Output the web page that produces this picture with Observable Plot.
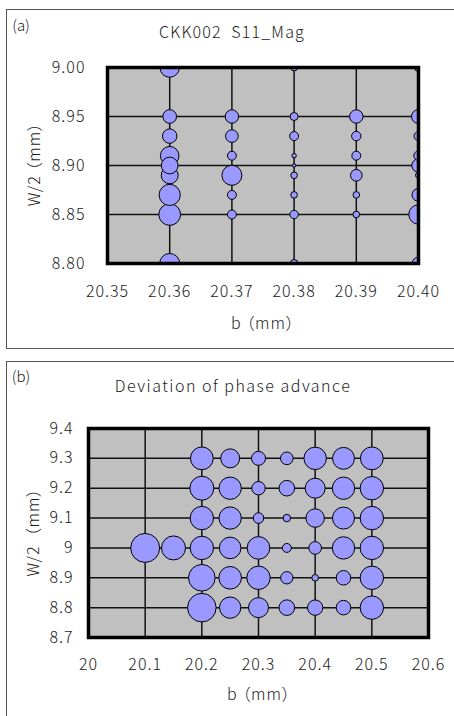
<!DOCTYPE html>
<html><head><meta charset="utf-8">
<script src="https://cdn.jsdelivr.net/npm/d3@7"></script>
<script src="https://cdn.jsdelivr.net/npm/@observablehq/plot@0.6"></script>
<style>
html,body{margin:0;padding:0;background:#fff}
body{width:454px;height:716px;overflow:hidden;position:relative;font-family:"Noto Sans CJK JP","Noto Sans",sans-serif;color:#1a1a1a;font-weight:300;font-feature-settings:"palt"}
.panel{position:absolute;border:1px solid #555;box-sizing:border-box}
.t{position:absolute;white-space:nowrap;font-size:16px;line-height:1;transform:translate(-50%,-50%);letter-spacing:1px}
.rot{transform:translate(-50%,-50%) rotate(-90deg)}
svg{position:absolute;left:0}
svg text{font-feature-settings:"palt"}
</style></head>
<body>
<div class="panel" style="left:6px;top:9px;width:470px;height:340px"></div>
<div class="panel" style="left:6px;top:361px;width:470px;height:400px"></div>
<div class="t" style="left:21px;top:24px;font-size:15px;letter-spacing:0">(a)</div>
<div class="t" style="left:232px;top:31px;letter-spacing:1.2px">CKK002&nbsp;&nbsp;S11_Mag</div>
<div class="t" style="left:263px;top:322px">b （mm）</div>
<div class="t rot" style="left:33px;top:164px">W/2 （mm）</div>
<div class="t" style="left:21px;top:375px;font-size:15px;letter-spacing:0">(b)</div>
<div class="t" style="left:233px;top:385px;letter-spacing:1.5px">Deviation of phase advance</div>
<div class="t" style="left:259px;top:693px">b （mm）</div>
<div class="t rot" style="left:32px;top:532px">W/2&nbsp;&nbsp;（mm）</div>
<script>
// ---- Panel (a): CKK002 S11_Mag ----
const bA   = [20.36,20.36,20.36,20.36,20.36,20.36,20.36,20.36,20.36,
              20.37,20.37,20.37,20.37,20.37,20.37,
              20.38,20.38,20.38,20.38,20.38,20.38,20.38,20.38,20.38,
              20.39,20.39,20.39,20.39,20.39,20.39,
              20.40,20.40,20.40,20.40,20.40,20.40,20.40,20.40,20.40];
const wA   = [9.00,8.95,8.93,8.90,8.91,8.89,8.87,8.85,8.80,
              8.95,8.93,8.91,8.89,8.87,8.85,
              9.00,8.95,8.93,8.90,8.91,8.89,8.87,8.85,8.80,
              8.95,8.93,8.91,8.89,8.87,8.85,
              9.00,8.95,8.93,8.90,8.91,8.89,8.87,8.85,8.80];
const magA = [95,47,52,70,86,72,112,118,100,
              45,40,20,100,20,20,
              12,16,20,3,5,11,11,18,16,
              45,22,20,34,11,11,
              16,49,20,45,22,9,42,94,40];
const xTicksA = [20.35,20.36,20.37,20.38,20.39,20.40];
const yTicksA = [8.80,8.85,8.90,8.95,9.00];
const xTickLabelsA = ["20.35","20.36","20.37","20.38","20.39","20.40"];
const yTickLabelsA = ["8.80","8.85","8.90","8.95","9.00"];

// ---- Panel (b): Deviation of phase advance ----
const bB   = [20.2,20.25,20.3,20.35,20.4,20.45,20.5,
              20.2,20.25,20.3,20.35,20.4,20.45,20.5,
              20.2,20.25,20.3,20.35,20.4,20.45,20.5,
              20.1,20.15,20.2,20.25,20.3,20.35,20.4,20.45,20.5,
              20.2,20.25,20.3,20.35,20.4,20.45,20.5,
              20.2,20.25,20.3,20.35,20.4,20.45,20.5];
const wB   = [9.3,9.3,9.3,9.3,9.3,9.3,9.3,
              9.2,9.2,9.2,9.2,9.2,9.2,9.2,
              9.1,9.1,9.1,9.1,9.1,9.1,9.1,
              9.0,9.0,9.0,9.0,9.0,9.0,9.0,9.0,9.0,
              8.9,8.9,8.9,8.9,8.9,8.9,8.9,
              8.8,8.8,8.8,8.8,8.8,8.8,8.8];
const devB = [130,90,49,40,126,120,130,
              144,125,45,61,100,125,137,
              137,125,28,14,85,121,137,
              210,144,137,117,128,20,40,125,137,
              177,128,137,38,11,53,137,
              204,114,100,61,59,53,137];
const xTicksB = [20,20.1,20.2,20.3,20.4,20.5,20.6];
const yTicksB = [8.7,8.8,8.9,9.0,9.1,9.2,9.3,9.4];
const xTickLabelsB = ["20","20.1","20.2","20.3","20.4","20.5","20.6"];
const yTickLabelsB = ["8.7","8.8","8.9","9","9.1","9.2","9.3","9.4"];

const dataA = bA.map((b,i)=>({b, w:wA[i], v:magA[i]}));
const dataB = bB.map((b,i)=>({b, w:wB[i], v:devB[i]}));

const font = {fontFamily:'"Noto Sans CJK JP","Noto Sans",sans-serif', fontSize:"16px", fontWeight:"300", color:"#1a1a1a", background:"transparent", letterSpacing:"1px", overflow:"visible"};
const bubbleFill = "#9999ff";
const bgFill = "#c0c0c0";

function panel({data, xTicks, yTicks, xLabels, yLabels, xDomain, yDomain, gx, gy, width, height, ml, mr, mt, mb, padX, padY}) {
  return Plot.plot({
    width, height, marginLeft: ml, marginRight: mr, marginTop: mt, marginBottom: mb,
    style: font,
    x: {domain: xDomain, label: null},
    y: {domain: yDomain, label: null},
    r: {type: "sqrt", domain: [0, 100], range: [0, 10]},
    marks: [
      Plot.frame({fill: bgFill}),
      Plot.gridX(gx, {stroke: "#111", strokeOpacity: 1, strokeWidth: 1.5}),
      Plot.gridY(gy, {stroke: "#111", strokeOpacity: 1, strokeWidth: 1.5}),
      Plot.dot(data, {x: "b", y: "w", r: "v", fill: bubbleFill, stroke: "#000", strokeWidth: 1, clip: true}),
      Plot.frame({stroke: "#000", strokeWidth: 3.5}),
      Plot.axisX({ticks: xTicks, tickFormat: (d) => xLabels[xTicks.indexOf(d)], tickSize: 0, tickPadding: padX, label: null}),
      Plot.axisY({ticks: yTicks, tickFormat: (d) => yLabels[yTicks.indexOf(d)], tickSize: 0, tickPadding: padY, label: null})
    ]
  });
}

const svgA = panel({
  data: dataA, xTicks: xTicksA, yTicks: yTicksA, xLabels: xTickLabelsA, yLabels: yTickLabelsA,
  xDomain: [20.35, 20.40], yDomain: [8.80, 9.00],
  gx: xTicksA.slice(1, -1), gy: yTicksA.slice(1, -1),
  width: 454, height: 350, ml: 107, mr: 36, mt: 67, mb: 87, padX: 22, padY: 22
});
svgA.style.top = "0px";
document.body.appendChild(svgA);

const svgB = panel({
  data: dataB, xTicks: xTicksB, yTicks: yTicksB, xLabels: xTickLabelsB, yLabels: yTickLabelsB,
  xDomain: [20, 20.6], yDomain: [8.7, 9.4],
  gx: xTicksB.slice(1, -1), gy: yTicksB.slice(1, -1),
  width: 454, height: 361, ml: 88, mr: 26, mt: 73, mb: 79, padX: 21, padY: 15
});
svgB.style.top = "355px";
document.body.appendChild(svgB);
</script>
</body></html>
